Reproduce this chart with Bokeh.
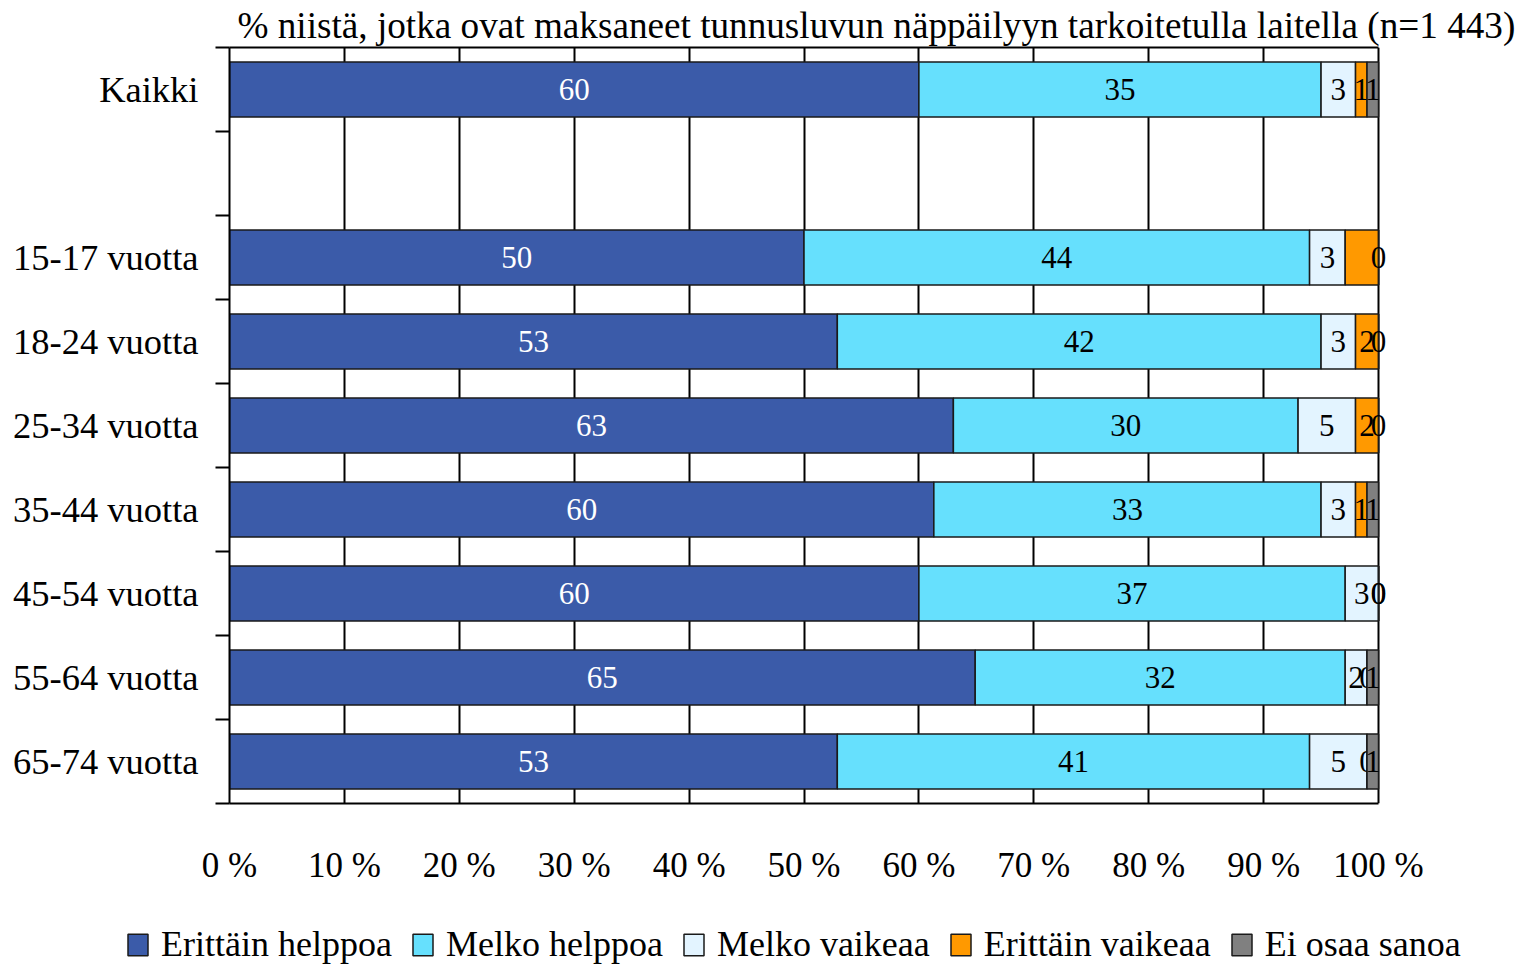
from bokeh.plotting import figure
from bokeh.models import ColumnDataSource, FixedTicker, Range1d, Legend, LegendItem, LinearAxis, Title
from bokeh.layouts import column
from bokeh.core.properties import value
from bokeh.embed import file_html
from bokeh.resources import INLINE

# ---- data ----
categories = ["Kaikki", "", "15-17 vuotta", "18-24 vuotta", "25-34 vuotta",
              "35-44 vuotta", "45-54 vuotta", "55-64 vuotta", "65-74 vuotta"]
series_names = ["Erittäin helppoa", "Melko helppoa", "Melko vaikeaa",
                "Erittäin vaikeaa", "Ei osaa sanoa"]
erittain_helppoa = [60.0, 0.0, 50.0, 52.9, 63.0, 61.3, 60.0, 64.9, 52.9]
melko_helppoa    = [35.0, 0.0, 44.0, 42.1, 30.0, 33.7, 37.1, 32.2, 41.1]
melko_vaikeaa    = [3.0, 0.0, 3.1, 3.0, 5.0, 3.0, 2.9, 1.9, 5.0]
erittain_vaikeaa = [1.0, 0.0, 2.9, 2.0, 2.0, 1.0, 0.0, 0.0, 0.0]
ei_osaa_sanoa    = [1.0, 0.0, 0.0, 0.0, 0.0, 1.0, 0.0, 1.0, 1.0]
labels_eh = ["60", "", "50", "53", "63", "60", "60", "65", "53"]
labels_mh = ["35", "", "44", "42", "30", "33", "37", "32", "41"]
labels_mv = ["3", "", "3", "3", "5", "3", "3", "2", "5"]
labels_ev = ["1", "", "", "2", "2", "1", "0", "0", "0"]
labels_eo = ["1", "", "0", "0", "0", "1", "0", "1", "1"]
x_ticks = [0, 10, 20, 30, 40, 50, 60, 70, 80, 90, 100]
x_tick_labels = ["0 %", "10 %", "20 %", "30 %", "40 %", "50 %", "60 %",
                 "70 %", "80 %", "90 %", "100 %"]
title_text = "% niistä, jotka ovat maksaneet tunnusluvun näppäilyyn tarkoitetulla laitella (n=1 443)"

colors = ["#3B5BA9", "#66E0FD", "#E3F4FF", "#FF9900", "#808080"]
text_colors = ["white", "black", "black", "black", "black"]
FONT = "Liberation Serif"

all_values = [erittain_helppoa, melko_helppoa, melko_vaikeaa, erittain_vaikeaa, ei_osaa_sanoa]
all_labels = [labels_eh, labels_mh, labels_mv, labels_ev, labels_eo]

n = len(categories)
ypos = [i + 0.5 for i in range(n)]

W, H_MAIN, H_LEG = 1521, 900, 65
FL, FT, FW, FH = 229, 47, 1172, 756   # frame: 0..102 %  -> 0..100 % spans 1149 px

p = figure(width=W, height=H_MAIN, output_backend="svg", toolbar_location=None,
           x_range=Range1d(0, 102), y_range=Range1d(n, 0),
           min_border_left=FL, min_border_right=W - FL - FW,
           min_border_top=FT, min_border_bottom=H_MAIN - FT - FH)
p.background_fill_color = "white"
p.border_fill_color = "white"
p.outline_line_color = None

# legend strip below the chart (hidden proxy renderers, only the legend shows)
pl = figure(width=W, height=H_LEG, output_backend="svg", toolbar_location=None,
            x_axis_location=None, y_axis_location=None,
            x_range=Range1d(0, 100), y_range=Range1d(n, 0),
            min_border_left=0, min_border_right=0, min_border_top=0, min_border_bottom=0)
pl.outline_line_color = None
pl.background_fill_color = "white"
pl.border_fill_color = "white"
pl.xgrid.visible = False
pl.ygrid.visible = False
for fig in (p, pl):
    try:
        fig.frame_align = False
    except Exception:
        pass

legend_items = []
cum = [0.0] * n
for k, vals in enumerate(all_values):
    left = cum[:]
    right = [a + b for a, b in zip(cum, vals)]
    cum = right
    rows = [i for i in range(n) if categories[i] != ""]
    src = ColumnDataSource(dict(
        y=[ypos[i] for i in rows],
        left=[left[i] for i in rows],
        right=[right[i] for i in rows],
        mid=[(left[i] + right[i]) / 2 for i in rows],
        lab=[all_labels[k][i] for i in rows],
    ))
    p.hbar(y="y", left="left", right="right", height=0.655, source=src,
           fill_color=colors[k], line_color="#1a1a1a", line_width=1.5)
    p.text(x="mid", y="y", text="lab", source=src, text_align="center",
           text_baseline="middle", text_font=value(FONT), text_font_size="31px",
           text_color=text_colors[k])
    proxy = pl.hbar(y="y", left="left", right="right", height=0.655, source=src,
                    fill_color=colors[k], line_color="#1a1a1a", line_width=1.5,
                    visible=False)
    legend_items.append(LegendItem(label=series_names[k], renderers=[proxy]))

# grid
p.ygrid.visible = False
p.xgrid.ticker = FixedTicker(ticks=x_ticks)
p.xgrid.grid_line_color = "black"
p.xgrid.grid_line_width = 2

# x axis
p.xaxis.ticker = FixedTicker(ticks=x_ticks)
p.xaxis.bounds = (0, 100)
p.xaxis.major_label_overrides = {t: s for t, s in zip(x_ticks, x_tick_labels)}
p.xaxis.major_tick_out = 0
p.xaxis.major_tick_in = 0
p.xaxis.minor_tick_out = 0
p.xaxis.minor_tick_in = 0
p.xaxis.axis_line_color = "black"
p.xaxis.axis_line_width = 2
p.xaxis.major_label_standoff = 42
p.xaxis.major_label_text_font = FONT
p.xaxis.major_label_text_font_size = "35px"
p.xaxis.major_label_text_color = "black"

# top border line (axis without ticks/labels)
top_axis = LinearAxis(ticker=FixedTicker(ticks=[]), bounds=(0, 100),
                      major_tick_out=0, major_tick_in=0, minor_tick_out=0, minor_tick_in=0,
                      major_label_standoff=0, axis_line_color="black", axis_line_width=2)
p.add_layout(top_axis, "above")

# y axis
p.yaxis.ticker = FixedTicker(ticks=ypos, minor_ticks=list(range(n + 1)))
p.yaxis.major_label_overrides = {y: c for y, c in zip(ypos, categories)}
p.yaxis.major_tick_out = 0
p.yaxis.major_tick_in = 0
p.yaxis.minor_tick_out = 14
p.yaxis.minor_tick_in = 0
p.yaxis.minor_tick_line_color = "black"
p.yaxis.minor_tick_line_width = 2
p.yaxis.axis_line_color = "black"
p.yaxis.axis_line_width = 2
p.yaxis.major_label_standoff = 17
p.yaxis.major_label_text_font = FONT
p.yaxis.major_label_text_font_size = "36.5px"
p.yaxis.major_label_text_color = "black"

# title
p.add_layout(Title(text=title_text, align="left", offset=8, standoff=3,
                   text_font=FONT, text_font_size="37.2px", text_font_style="normal",
                   text_color="black"), "above")

legend = Legend(items=legend_items, orientation="horizontal", location=(125, 0),
                label_text_font=FONT, label_text_font_size="36px", label_text_color="black",
                glyph_width=25, glyph_height=27, label_standoff=11, spacing=18,
                padding=0, margin=0, border_line_alpha=0, background_fill_alpha=0,
                inactive_fill_alpha=0)
pl.add_layout(legend, "center")

layout = column(p, pl, spacing=0)
open("out.html", "w").write(file_html(layout, INLINE))
